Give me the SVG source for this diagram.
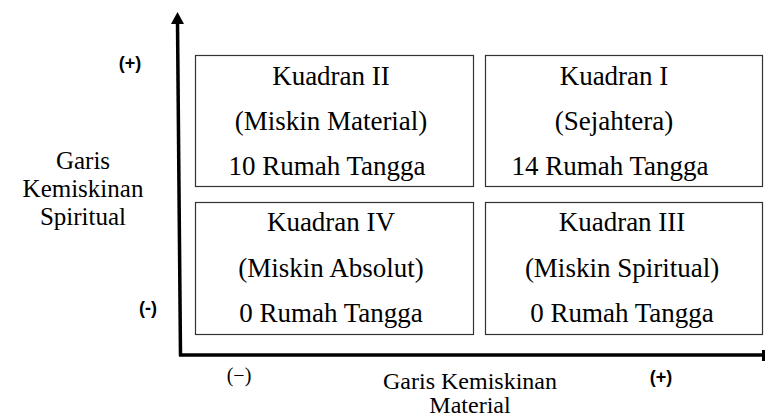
<svg xmlns="http://www.w3.org/2000/svg" width="765" height="419" viewBox="0 0 765 419">
<style>
.box{fill:#fff;stroke:#333;stroke-width:1.2}
.t{font-family:"Liberation Serif","Times New Roman",serif;font-size:27px;fill:#000;text-anchor:middle}
.l{font-size:25px}
.b{font-size:24px}
.s{font-family:"Liberation Sans",Arial,sans-serif;font-size:18px;font-weight:bold;fill:#000;text-anchor:middle}
.ax{stroke:#000;stroke-width:3.5;fill:none}
</style>
<rect width="765" height="419" fill="#fff"/>
<g id="connectors">
<line class="ax" x1="177.5" y1="22" x2="180.5" y2="356"/>
<polygon points="177.5,12 171,24 184,24" fill="#000"/>
<line class="ax" x1="179" y1="355" x2="763" y2="355"/>
<rect x="762" y="350" width="3" height="11" fill="#000"/>
</g>
<g id="kuadran2">
<rect class="box" x="195.5" y="55.5" width="278" height="131"/>
<text class="t" x="331" y="85">Kuadran II</text>
<text class="t" x="331" y="130">(Miskin Material)</text>
<text class="t" x="327" y="175">10 Rumah Tangga</text>
</g>
<g id="kuadran1">
<rect class="box" x="485.5" y="55.5" width="277" height="131"/>
<text class="t" x="614" y="85">Kuadran I</text>
<text class="t" x="614" y="130">(Sejahtera)</text>
<text class="t" x="610" y="175">14 Rumah Tangga</text>
</g>
<g id="kuadran4">
<rect class="box" x="195.5" y="202.5" width="278" height="132"/>
<text class="t" x="331" y="231">Kuadran IV</text>
<text class="t" x="331" y="277">(Miskin Absolut)</text>
<text class="t" x="331" y="322">0 Rumah Tangga</text>
</g>
<g id="kuadran3">
<rect class="box" x="485.5" y="202.5" width="277" height="132"/>
<text class="t" x="622" y="231">Kuadran III</text>
<text class="t" x="622" y="277">(Miskin Spiritual)</text>
<text class="t" x="622" y="322">0 Rumah Tangga</text>
</g>
<g id="y-label">
<text class="t l" x="83" y="169">Garis</text>
<text class="t l" x="83" y="197">Kemiskinan</text>
<text class="t l" x="83" y="225">Spiritual</text>
<text class="s" x="130" y="69">(+)</text>
<text class="s" x="148" y="314">(-)</text>
</g>
<g id="x-label">
<text class="t b" x="470" y="389">Garis Kemiskinan</text>
<text class="t b" x="470" y="413">Material</text>
<text class="t" x="239" y="382" style="font-size:20px">(−)</text>
<text class="s" x="661" y="383">(+)</text>
</g>
</svg>
